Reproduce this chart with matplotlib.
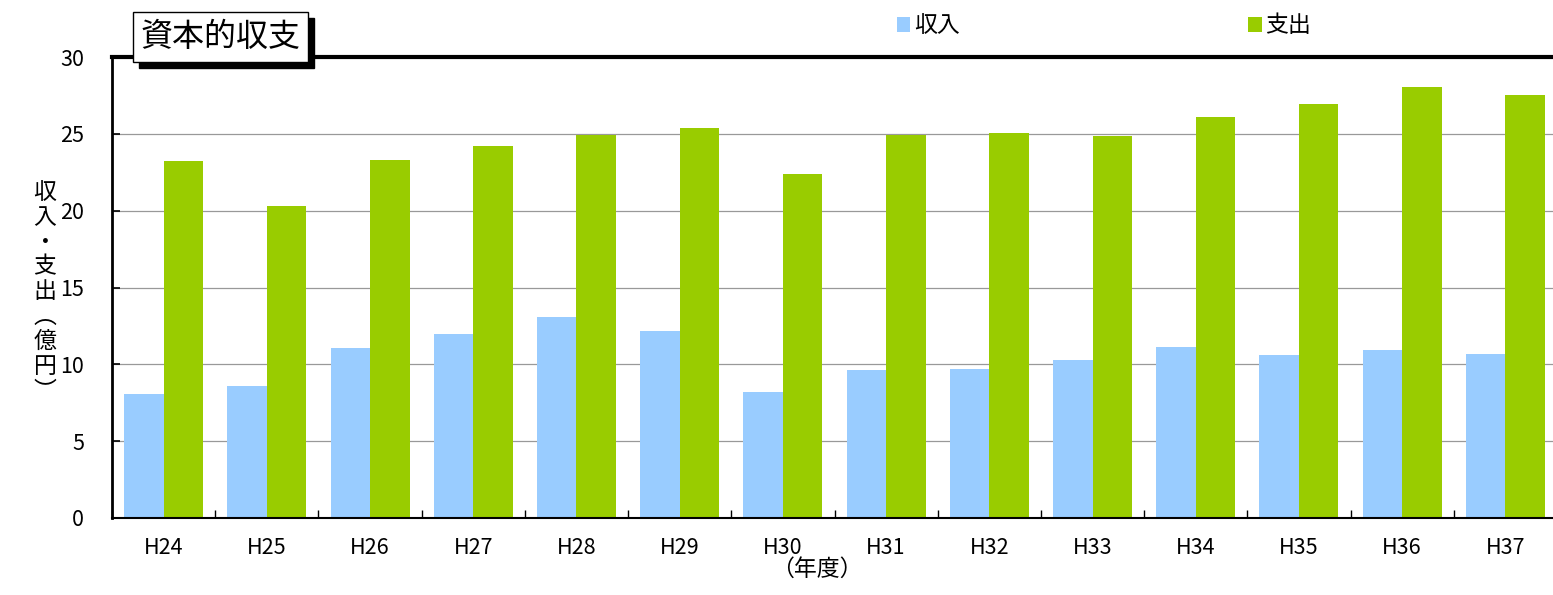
import matplotlib
matplotlib.use("Agg")
import matplotlib.pyplot as plt
from matplotlib.patches import Rectangle
import numpy as np

plt.rcParams['font.family'] = ['Noto Sans CJK JP', 'DejaVu Sans']

years = ["H24", "H25", "H26", "H27", "H28", "H29", "H30",
         "H31", "H32", "H33", "H34", "H35", "H36", "H37"]
income = [8.1, 8.6, 11.05, 11.95, 13.05, 12.15, 8.2,
          9.6, 9.7, 10.3, 11.1, 10.6, 10.95, 10.7]
expense = [23.2, 20.3, 23.3, 24.2, 24.9, 25.4, 22.4,
           24.9, 25.05, 24.85, 26.1, 26.95, 28.05, 27.5]
series_names = ["収入", "支出"]
colors = ["#99CCFF", "#99CC00"]
yticks = [0, 5, 10, 15, 20, 25, 30]

W, H = 1553, 595
fig = plt.figure(figsize=(W / 100, H / 100), dpi=100)
ax = fig.add_axes([112 / W, 1 - 518 / H, (1557 - 112) / W, (518 - 57) / H])

x = np.arange(len(years))
bw = 0.383
b1 = ax.bar(x - bw / 2, income, bw, color=colors[0], zorder=3, label=series_names[0])
b2 = ax.bar(x + bw / 2, expense, bw, color=colors[1], zorder=3, label=series_names[1])

ax.set_xlim(-0.5, len(years) - 0.5)
ax.set_ylim(0, 30)
ax.set_yticks(yticks)
ax.set_yticklabels([str(v) for v in yticks], fontsize=15.5)
ax.yaxis.grid(True, color="#999999", linewidth=0.9, zorder=0)
ax.tick_params(axis="y", direction="in", length=6, width=1.2, pad=20, colors="black")

# category boundary ticks (major, no label) and centered labels (minor)
ax.set_xticks(np.arange(-0.5, len(years), 1.0))
ax.set_xticklabels([])
ax.tick_params(axis="x", which="major", direction="in", length=6, width=1.0)
ax.set_xticks(x, minor=True)
ax.set_xticklabels(years, minor=True, fontsize=15.5)
ax.tick_params(axis="x", which="minor", length=0, pad=14)

ax.spines["left"].set_linewidth(2.0)
ax.spines["bottom"].set_linewidth(1.5)
ax.spines["top"].set_linewidth(3.0)
ax.spines["right"].set_visible(False)
for s in ax.spines.values():
    s.set_zorder(4)

# legend
leg = fig.legend(handles=[b1, b2], labels=series_names, ncol=2, frameon=False,
                 loc="center", bbox_to_anchor=(1104 / W, 1 - 26 / H),
                 handlelength=0.6, handleheight=0.6, handletextpad=0.15,
                 columnspacing=12.6, fontsize=16.5)

# y label (vertical text)
ylabel_chars = ["収", "入", "・", "支", "出", "︵", "億", "円", "︶"]
fig.text(45 / W, 1 - 292 / H, "\n".join(ylabel_chars), fontsize=16.5,
         ha="center", va="center", linespacing=1.1)

# x label
fig.text(817 / W, 1 - 569 / H, "（年度）", fontsize=16.5, ha="center", va="center")

# title box with shadow
bx0, by0, bx1, by1 = 133, 12, 308, 62
off = 6
fig.add_artist(Rectangle(((bx0 + off) / W, 1 - (by1 + off) / H),
                         (bx1 - bx0) / W, (by1 - by0) / H,
                         transform=fig.transFigure, facecolor="black",
                         edgecolor="black", zorder=10))
fig.add_artist(Rectangle((bx0 / W, 1 - by1 / H), (bx1 - bx0) / W, (by1 - by0) / H,
                         transform=fig.transFigure, facecolor="white",
                         edgecolor="black", linewidth=1.0, zorder=11))
fig.text((bx0 + bx1) / 2 / W, 1 - (by0 + by1) / 2 / H, "資本的収支", fontsize=23,
         ha="center", va="center", zorder=12)

fig.savefig("out.png", dpi=100)
